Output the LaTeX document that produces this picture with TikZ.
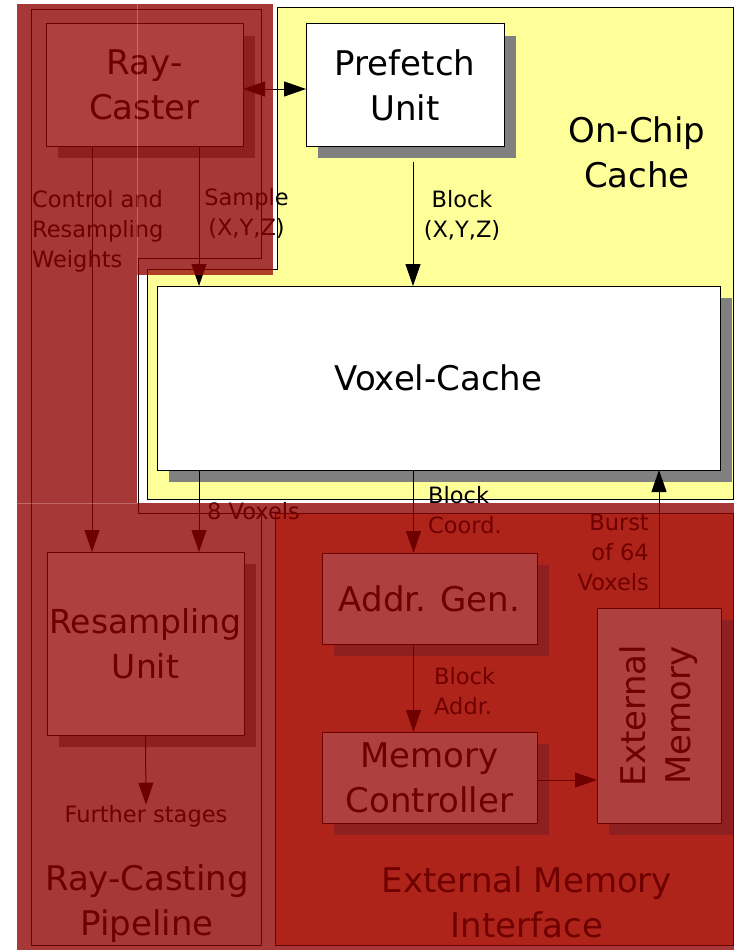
\documentclass[tikz,border=0pt]{standalone}
\usepackage{fontspec}
\setmainfont{DejaVu Sans}
\usetikzlibrary{arrows.meta,shadows}
\definecolor{cacheyellow}{RGB}{255,255,153}
\definecolor{shadowgray}{RGB}{128,128,128}
\definecolor{tintred}{RGB}{149,0,0}
\definecolor{underlay}{RGB}{224,224,224}
\definecolor{emifill}{RGB}{255,144,104}
\newcommand{\boxfont}{\fontsize{34}{45}\selectfont}
\newcommand{\lblfont}{\fontsize{22.5}{30}\selectfont}
\tikzset{
  block/.style={draw, fill=white, line width=1pt, inner sep=0pt, outer sep=0pt,
    align=center, font=\boxfont,
    drop shadow={shadow xshift=12pt, shadow yshift=-12pt, fill=shadowgray, opacity=1}},
  lbl/.style={inner sep=0pt, font=\lblfont},
  title/.style={inner sep=0pt, align=center, font=\boxfont},
  arr/.style={line width=1pt, -{Triangle[length=22pt,width=15pt]}},
  biarr/.style={line width=1pt, {Triangle[length=22pt,width=15pt]}-{Triangle[length=22pt,width=15pt]}}
}

\begin{document}
\begin{tikzpicture}[x=1pt,y=-1pt]
\useasboundingbox (0,0) rectangle (734,950);
\fill[white] (0,0) rectangle (734,950);
% light base below the red tint
\foreach \xa/\ya/\xb/\yb in {17/4/137/503, 137/4/273/275, 17/503/734/950}
  \fill[underlay] (\xa,\ya) rectangle (\xb,\yb);
% on-chip cache
\filldraw[fill=cacheyellow, line width=1pt]
  (277,8) -- (733,8) -- (733,499) -- (147,499) -- (147,269) -- (277,269) -- cycle;
% ray-casting pipeline frame
\draw[line width=1pt] (31,10) -- (261,10) -- (261,258) -- (138,258) --
  (138,513) -- (261,513) -- (261,945) -- (31,945) -- cycle;
% external memory interface frame
\filldraw[fill=emifill, line width=1pt] (275,513) rectangle (733,945);

% units
\node[block, minimum width=197pt, minimum height=122pt] (raycaster) at (144.5,85) {Ray-\\Caster};
\node[block, minimum width=198pt, minimum height=122pt] (prefetch) at (405,85) {Prefetch\\Unit};
\node[block, minimum width=563pt, minimum height=184pt] (voxel) at (438.5,378) {Voxel-Cache};
\node[block, minimum width=197pt, minimum height=183pt, font=\fontsize{33}{45}\selectfont]
  (resample) at (145.5,643.5) {Resampling\\Unit};
\node[block, minimum width=215pt, minimum height=91pt] (addrgen) at (429.5,598.5) {Addr. Gen.};
\node[block, minimum width=215pt, minimum height=91pt] (memctrl) at (429.5,777.5) {Memory\\Controller};
\node[block, minimum width=124pt, minimum height=215pt] (extmem) at (659,715.5)
  {\rotatebox{90}{\begin{tabular}{@{}c@{}}External\\Memory\end{tabular}}};

% region titles
\node[title] (occ) at (637,152) {On-Chip\\Cache};
\node[title] (rcp) at (147,904) {Ray-Casting\\Pipeline};
\node[title] (emi) at (527,902) {External Memory\\Interface};

% signal labels
\node[lbl, align=left, anchor=west] (ctrllbl) at (32,231) {Control and\\Resampling\\Weights};
\node[lbl, align=center] (samplelbl) at (246.5,213) {Sample\\(X,Y,Z)};
\node[lbl, align=center] (blocklbl) at (462,215) {Block\\(X,Y,Z)};
\node[lbl, anchor=base west] (voxlbl) at (207,519) {8 Voxels};
\node[lbl, align=left, anchor=west] (coordlbl) at (428,510) {Block\\Coord.};
\node[lbl, align=left, anchor=west] (addrlbl) at (434,691) {Block\\Addr.};
\node[lbl, align=right, anchor=east] (burstlbl) at (649,552) {Burst\\of 64\\Voxels};
\node[lbl, anchor=base] (further) at (146,822) {Further stages};

% connections
\draw[biarr] ([yshift=-4pt]raycaster.east) -- ([yshift=-4pt]prefetch.west);
\draw[arr] ([xshift=46pt]raycaster.south west) -- ([xshift=45pt]resample.north west);
\draw[arr] ([xshift=153pt]raycaster.south west) -- ([xshift=153pt]raycaster.south west |- voxel.north);
\draw[arr] ([xshift=8pt,yshift=-16pt]prefetch.south) -- ([xshift=8pt]prefetch.south |- voxel.north);
\draw[arr] ([xshift=42pt]voxel.south west) -- ([xshift=42pt]voxel.south west |- resample.north);
\draw[arr] ([xshift=-16pt]addrgen.north |- voxel.south) -- ([xshift=-16pt]addrgen.north);
\draw[arr] ([xshift=-16pt]addrgen.south) -- ([xshift=-16pt]memctrl.north);
\draw[arr] ([yshift=-2.5pt]memctrl.east) -- ([yshift=-2.5pt]memctrl.east -| extmem.west);
\draw[arr] (extmem.north) -- (extmem.north |- voxel.south);
\draw[arr] (resample.south) -- (further.north);

% red tint over the pipeline side
\foreach \xa/\ya/\xb/\yb in {17/4/137/503, 137/4/273/275, 17/503/734/950}
  \fill[tintred, opacity=0.75] (\xa,\ya) rectangle (\xb,\yb);
% seams between the tint pieces
\draw[white, opacity=0.25, line width=0.8pt] (137,4) -- (137,275) (17,503) -- (137,503);
\end{tikzpicture}
\end{document}
